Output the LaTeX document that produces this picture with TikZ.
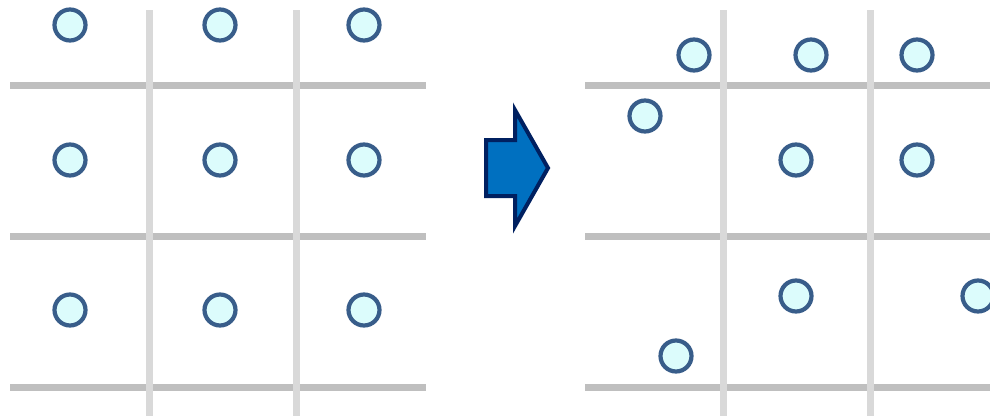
\documentclass[tikz,border=0pt]{standalone}
\usepackage{tikz}
\definecolor{hline}{HTML}{BFBFBF}
\definecolor{vline}{HTML}{D9D9D9}
\definecolor{dotfill}{HTML}{DCFCFC}
\definecolor{dotdraw}{HTML}{385D8A}
\definecolor{arrowfill}{HTML}{0070C0}
\definecolor{arrowdraw}{HTML}{002060}
\tikzset{
  hgrid/.style={draw=hline, line width=7pt},
  vgrid/.style={draw=vline, line width=7pt},
  dot/.style={circle, draw=dotdraw, fill=dotfill, line width=4.2pt, minimum size=31pt, inner sep=0pt},
  bigarrow/.style={draw=arrowdraw, fill=arrowfill, line width=4pt, line join=miter}
}
\begin{document}
\begin{tikzpicture}[x=1pt,y=-1pt]
\useasboundingbox (0,0) rectangle (990,416);
% left grid
\foreach \yy in {85,236,387} \draw[hgrid] (10,\yy) -- (426,\yy);
\foreach \xx in {149,296} \draw[vgrid] (\xx,10) -- (\xx,416);
% right grid
\foreach \yy in {85,236,387} \draw[hgrid] (585,\yy) -- (990,\yy);
\foreach \xx in {723,870} \draw[vgrid] (\xx,10) -- (\xx,416);
% left dots
\node[dot] (l11) at (70,25) {};
\node[dot] (l12) at (220,25) {};
\node[dot] (l13) at (364,25) {};
\node[dot] (l21) at (70,160) {};
\node[dot] (l22) at (220,160) {};
\node[dot] (l23) at (364,160) {};
\node[dot] (l31) at (70,310) {};
\node[dot] (l32) at (220,310) {};
\node[dot] (l33) at (364,310) {};
% right dots
\node[dot] (r1) at (694,55) {};
\node[dot] (r2) at (811,55) {};
\node[dot] (r3) at (917,55) {};
\node[dot] (r4) at (645,116) {};
\node[dot] (r5) at (796,160) {};
\node[dot] (r6) at (917,160) {};
\node[dot] (r7) at (796,296) {};
\node[dot] (r8) at (978,296) {};
\node[dot] (r9) at (676,356) {};
% arrow
\draw[bigarrow] (486,140) -- (515,140) -- (515,110) -- (548,168) -- (515,226) -- (515,196) -- (486,196) -- cycle;
\end{tikzpicture}
\end{document}
